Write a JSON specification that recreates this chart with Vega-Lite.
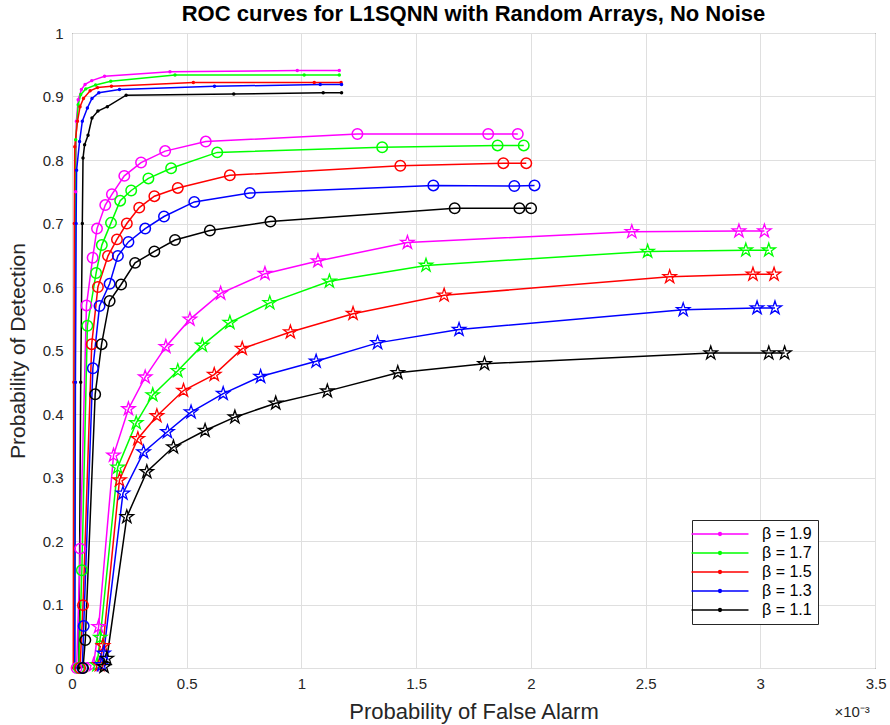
{
"$schema": "https://vega.github.io/schema/vega-lite/v6.json",
"width": 803, "height": 635,
"autosize": {"type": "none"},
"padding": {"left": 72, "top": 33, "right": 15, "bottom": 57},
"background": "white",
"config": {
 "font": "Liberation Sans",
 "view": {"stroke": "#262626", "strokeWidth": 1},
 "axis": {"grid": true, "gridColor": "#dfdfdf", "gridWidth": 1, "domain": false, "ticks": false, "labelFontSize": 15, "labelColor": "#262626", "titleColor": "#262626", "titleFontSize": 21, "titleFontWeight": "normal"}
},
"title": {"text": "ROC curves for L1SQNN with Random Arrays, No Noise", "fontSize": 22, "fontWeight": "bold", "color": "#000000", "offset": 0},
"data": {"values": [
{"beta":"1.9","marker":"dot","i":0,"pfa":0.010,"pd":0},
{"beta":"1.9","marker":"dot","i":1,"pfa":0.014,"pd":0.45},
{"beta":"1.9","marker":"dot","i":2,"pfa":0.016,"pd":0.75},
{"beta":"1.9","marker":"dot","i":3,"pfa":0.019,"pd":0.861},
{"beta":"1.9","marker":"dot","i":4,"pfa":0.027,"pd":0.895},
{"beta":"1.9","marker":"dot","i":5,"pfa":0.041,"pd":0.911},
{"beta":"1.9","marker":"dot","i":6,"pfa":0.057,"pd":0.919},
{"beta":"1.9","marker":"dot","i":7,"pfa":0.086,"pd":0.925},
{"beta":"1.9","marker":"dot","i":8,"pfa":0.142,"pd":0.932},
{"beta":"1.9","marker":"dot","i":9,"pfa":0.427,"pd":0.939},
{"beta":"1.9","marker":"dot","i":10,"pfa":0.982,"pd":0.941},
{"beta":"1.9","marker":"dot","i":11,"pfa":1.165,"pd":0.941},
{"beta":"1.7","marker":"dot","i":0,"pfa":0.012,"pd":0},
{"beta":"1.7","marker":"dot","i":1,"pfa":0.013,"pd":0.45},
{"beta":"1.7","marker":"dot","i":2,"pfa":0.014,"pd":0.7},
{"beta":"1.7","marker":"dot","i":3,"pfa":0.016,"pd":0.832},
{"beta":"1.7","marker":"dot","i":4,"pfa":0.027,"pd":0.887},
{"beta":"1.7","marker":"dot","i":5,"pfa":0.038,"pd":0.903},
{"beta":"1.7","marker":"dot","i":6,"pfa":0.060,"pd":0.912},
{"beta":"1.7","marker":"dot","i":7,"pfa":0.103,"pd":0.918},
{"beta":"1.7","marker":"dot","i":8,"pfa":0.169,"pd":0.924},
{"beta":"1.7","marker":"dot","i":9,"pfa":0.449,"pd":0.934},
{"beta":"1.7","marker":"dot","i":10,"pfa":1.012,"pd":0.934},
{"beta":"1.7","marker":"dot","i":11,"pfa":1.165,"pd":0.934},
{"beta":"1.5","marker":"dot","i":0,"pfa":0.006,"pd":0},
{"beta":"1.5","marker":"dot","i":1,"pfa":0.008,"pd":0.45},
{"beta":"1.5","marker":"dot","i":2,"pfa":0.010,"pd":0.7},
{"beta":"1.5","marker":"dot","i":3,"pfa":0.012,"pd":0.821},
{"beta":"1.5","marker":"dot","i":4,"pfa":0.024,"pd":0.861},
{"beta":"1.5","marker":"dot","i":5,"pfa":0.035,"pd":0.884},
{"beta":"1.5","marker":"dot","i":6,"pfa":0.050,"pd":0.897},
{"beta":"1.5","marker":"dot","i":7,"pfa":0.079,"pd":0.909},
{"beta":"1.5","marker":"dot","i":8,"pfa":0.111,"pd":0.914},
{"beta":"1.5","marker":"dot","i":9,"pfa":0.172,"pd":0.916},
{"beta":"1.5","marker":"dot","i":10,"pfa":0.529,"pd":0.922},
{"beta":"1.5","marker":"dot","i":11,"pfa":1.056,"pd":0.922},
{"beta":"1.5","marker":"dot","i":12,"pfa":1.173,"pd":0.922},
{"beta":"1.3","marker":"dot","i":0,"pfa":0.012,"pd":0},
{"beta":"1.3","marker":"dot","i":1,"pfa":0.015,"pd":0.45},
{"beta":"1.3","marker":"dot","i":2,"pfa":0.018,"pd":0.7},
{"beta":"1.3","marker":"dot","i":3,"pfa":0.020,"pd":0.784},
{"beta":"1.3","marker":"dot","i":4,"pfa":0.033,"pd":0.829},
{"beta":"1.3","marker":"dot","i":5,"pfa":0.045,"pd":0.861},
{"beta":"1.3","marker":"dot","i":6,"pfa":0.067,"pd":0.882},
{"beta":"1.3","marker":"dot","i":7,"pfa":0.087,"pd":0.897},
{"beta":"1.3","marker":"dot","i":8,"pfa":0.117,"pd":0.906},
{"beta":"1.3","marker":"dot","i":9,"pfa":0.207,"pd":0.911},
{"beta":"1.3","marker":"dot","i":10,"pfa":0.621,"pd":0.916},
{"beta":"1.3","marker":"dot","i":11,"pfa":1.082,"pd":0.919},
{"beta":"1.3","marker":"dot","i":12,"pfa":1.175,"pd":0.919},
{"beta":"1.1","marker":"dot","i":0,"pfa":0.030,"pd":0},
{"beta":"1.1","marker":"dot","i":1,"pfa":0.038,"pd":0.45},
{"beta":"1.1","marker":"dot","i":2,"pfa":0.045,"pd":0.7},
{"beta":"1.1","marker":"dot","i":3,"pfa":0.048,"pd":0.803},
{"beta":"1.1","marker":"dot","i":4,"pfa":0.055,"pd":0.824},
{"beta":"1.1","marker":"dot","i":5,"pfa":0.070,"pd":0.839},
{"beta":"1.1","marker":"dot","i":6,"pfa":0.087,"pd":0.866},
{"beta":"1.1","marker":"dot","i":7,"pfa":0.113,"pd":0.877},
{"beta":"1.1","marker":"dot","i":8,"pfa":0.154,"pd":0.884},
{"beta":"1.1","marker":"dot","i":9,"pfa":0.236,"pd":0.902},
{"beta":"1.1","marker":"dot","i":10,"pfa":0.705,"pd":0.904},
{"beta":"1.1","marker":"dot","i":11,"pfa":1.095,"pd":0.906},
{"beta":"1.1","marker":"dot","i":12,"pfa":1.175,"pd":0.906},
{"beta":"1.9","marker":"circle","i":0,"pfa":0.020,"pd":0},
{"beta":"1.9","marker":"circle","i":1,"pfa":0.036,"pd":0.188},
{"beta":"1.9","marker":"circle","i":2,"pfa":0.063,"pd":0.571},
{"beta":"1.9","marker":"circle","i":3,"pfa":0.090,"pd":0.646},
{"beta":"1.9","marker":"circle","i":4,"pfa":0.109,"pd":0.692},
{"beta":"1.9","marker":"circle","i":5,"pfa":0.145,"pd":0.729},
{"beta":"1.9","marker":"circle","i":6,"pfa":0.174,"pd":0.746},
{"beta":"1.9","marker":"circle","i":7,"pfa":0.228,"pd":0.775},
{"beta":"1.9","marker":"circle","i":8,"pfa":0.301,"pd":0.796},
{"beta":"1.9","marker":"circle","i":9,"pfa":0.406,"pd":0.814},
{"beta":"1.9","marker":"circle","i":10,"pfa":0.583,"pd":0.829},
{"beta":"1.9","marker":"circle","i":11,"pfa":1.244,"pd":0.841},
{"beta":"1.9","marker":"circle","i":12,"pfa":1.814,"pd":0.841},
{"beta":"1.9","marker":"circle","i":13,"pfa":1.943,"pd":0.841},
{"beta":"1.7","marker":"circle","i":0,"pfa":0.030,"pd":0},
{"beta":"1.7","marker":"circle","i":1,"pfa":0.043,"pd":0.154},
{"beta":"1.7","marker":"circle","i":2,"pfa":0.067,"pd":0.539},
{"beta":"1.7","marker":"circle","i":3,"pfa":0.105,"pd":0.622},
{"beta":"1.7","marker":"circle","i":4,"pfa":0.130,"pd":0.666},
{"beta":"1.7","marker":"circle","i":5,"pfa":0.170,"pd":0.701},
{"beta":"1.7","marker":"circle","i":6,"pfa":0.210,"pd":0.736},
{"beta":"1.7","marker":"circle","i":7,"pfa":0.258,"pd":0.752},
{"beta":"1.7","marker":"circle","i":8,"pfa":0.333,"pd":0.771},
{"beta":"1.7","marker":"circle","i":9,"pfa":0.432,"pd":0.787},
{"beta":"1.7","marker":"circle","i":10,"pfa":0.633,"pd":0.812},
{"beta":"1.7","marker":"circle","i":11,"pfa":1.352,"pd":0.820},
{"beta":"1.7","marker":"circle","i":12,"pfa":1.855,"pd":0.823},
{"beta":"1.7","marker":"circle","i":13,"pfa":1.969,"pd":0.823},
{"beta":"1.5","marker":"circle","i":0,"pfa":0.035,"pd":0},
{"beta":"1.5","marker":"circle","i":1,"pfa":0.048,"pd":0.099},
{"beta":"1.5","marker":"circle","i":2,"pfa":0.086,"pd":0.510},
{"beta":"1.5","marker":"circle","i":3,"pfa":0.113,"pd":0.600},
{"beta":"1.5","marker":"circle","i":4,"pfa":0.157,"pd":0.649},
{"beta":"1.5","marker":"circle","i":5,"pfa":0.196,"pd":0.675},
{"beta":"1.5","marker":"circle","i":6,"pfa":0.239,"pd":0.700},
{"beta":"1.5","marker":"circle","i":7,"pfa":0.293,"pd":0.725},
{"beta":"1.5","marker":"circle","i":8,"pfa":0.359,"pd":0.743},
{"beta":"1.5","marker":"circle","i":9,"pfa":0.461,"pd":0.756},
{"beta":"1.5","marker":"circle","i":10,"pfa":0.688,"pd":0.776},
{"beta":"1.5","marker":"circle","i":11,"pfa":1.431,"pd":0.791},
{"beta":"1.5","marker":"circle","i":12,"pfa":1.880,"pd":0.795},
{"beta":"1.5","marker":"circle","i":13,"pfa":1.980,"pd":0.795},
{"beta":"1.3","marker":"circle","i":0,"pfa":0.045,"pd":0},
{"beta":"1.3","marker":"circle","i":1,"pfa":0.051,"pd":0.066},
{"beta":"1.3","marker":"circle","i":2,"pfa":0.091,"pd":0.472},
{"beta":"1.3","marker":"circle","i":3,"pfa":0.120,"pd":0.570},
{"beta":"1.3","marker":"circle","i":4,"pfa":0.164,"pd":0.605},
{"beta":"1.3","marker":"circle","i":5,"pfa":0.200,"pd":0.649},
{"beta":"1.3","marker":"circle","i":6,"pfa":0.246,"pd":0.671},
{"beta":"1.3","marker":"circle","i":7,"pfa":0.319,"pd":0.692},
{"beta":"1.3","marker":"circle","i":8,"pfa":0.401,"pd":0.711},
{"beta":"1.3","marker":"circle","i":9,"pfa":0.533,"pd":0.734},
{"beta":"1.3","marker":"circle","i":10,"pfa":0.775,"pd":0.748},
{"beta":"1.3","marker":"circle","i":11,"pfa":1.575,"pd":0.760},
{"beta":"1.3","marker":"circle","i":12,"pfa":1.928,"pd":0.759},
{"beta":"1.3","marker":"circle","i":13,"pfa":2.016,"pd":0.760},
{"beta":"1.1","marker":"circle","i":0,"pfa":0.048,"pd":0},
{"beta":"1.1","marker":"circle","i":1,"pfa":0.058,"pd":0.044},
{"beta":"1.1","marker":"circle","i":2,"pfa":0.101,"pd":0.431},
{"beta":"1.1","marker":"circle","i":3,"pfa":0.129,"pd":0.510},
{"beta":"1.1","marker":"circle","i":4,"pfa":0.164,"pd":0.578},
{"beta":"1.1","marker":"circle","i":5,"pfa":0.214,"pd":0.604},
{"beta":"1.1","marker":"circle","i":6,"pfa":0.275,"pd":0.638},
{"beta":"1.1","marker":"circle","i":7,"pfa":0.359,"pd":0.656},
{"beta":"1.1","marker":"circle","i":8,"pfa":0.449,"pd":0.674},
{"beta":"1.1","marker":"circle","i":9,"pfa":0.601,"pd":0.689},
{"beta":"1.1","marker":"circle","i":10,"pfa":0.865,"pd":0.703},
{"beta":"1.1","marker":"circle","i":11,"pfa":1.668,"pd":0.724},
{"beta":"1.1","marker":"circle","i":12,"pfa":1.950,"pd":0.724},
{"beta":"1.1","marker":"circle","i":13,"pfa":2.001,"pd":0.724},
{"beta":"1.9","marker":"star","i":0,"pfa":0.094,"pd":0.005},
{"beta":"1.9","marker":"star","i":1,"pfa":0.116,"pd":0.065},
{"beta":"1.9","marker":"star","i":2,"pfa":0.181,"pd":0.335},
{"beta":"1.9","marker":"star","i":3,"pfa":0.246,"pd":0.408},
{"beta":"1.9","marker":"star","i":4,"pfa":0.319,"pd":0.458},
{"beta":"1.9","marker":"star","i":5,"pfa":0.409,"pd":0.506},
{"beta":"1.9","marker":"star","i":6,"pfa":0.514,"pd":0.549},
{"beta":"1.9","marker":"star","i":7,"pfa":0.648,"pd":0.590},
{"beta":"1.9","marker":"star","i":8,"pfa":0.841,"pd":0.621},
{"beta":"1.9","marker":"star","i":9,"pfa":1.072,"pd":0.641},
{"beta":"1.9","marker":"star","i":10,"pfa":1.462,"pd":0.670},
{"beta":"1.9","marker":"star","i":11,"pfa":2.440,"pd":0.687},
{"beta":"1.9","marker":"star","i":12,"pfa":2.907,"pd":0.688},
{"beta":"1.9","marker":"star","i":13,"pfa":3.018,"pd":0.688},
{"beta":"1.7","marker":"star","i":0,"pfa":0.109,"pd":0.005},
{"beta":"1.7","marker":"star","i":1,"pfa":0.123,"pd":0.048},
{"beta":"1.7","marker":"star","i":2,"pfa":0.199,"pd":0.316},
{"beta":"1.7","marker":"star","i":3,"pfa":0.280,"pd":0.386},
{"beta":"1.7","marker":"star","i":4,"pfa":0.352,"pd":0.430},
{"beta":"1.7","marker":"star","i":5,"pfa":0.461,"pd":0.468},
{"beta":"1.7","marker":"star","i":6,"pfa":0.568,"pd":0.508},
{"beta":"1.7","marker":"star","i":7,"pfa":0.688,"pd":0.544},
{"beta":"1.7","marker":"star","i":8,"pfa":0.862,"pd":0.575},
{"beta":"1.7","marker":"star","i":9,"pfa":1.122,"pd":0.609},
{"beta":"1.7","marker":"star","i":10,"pfa":1.543,"pd":0.634},
{"beta":"1.7","marker":"star","i":11,"pfa":2.509,"pd":0.656},
{"beta":"1.7","marker":"star","i":12,"pfa":2.937,"pd":0.658},
{"beta":"1.7","marker":"star","i":13,"pfa":3.037,"pd":0.658},
{"beta":"1.5","marker":"star","i":0,"pfa":0.120,"pd":0.005},
{"beta":"1.5","marker":"star","i":1,"pfa":0.135,"pd":0.035},
{"beta":"1.5","marker":"star","i":2,"pfa":0.207,"pd":0.296},
{"beta":"1.5","marker":"star","i":3,"pfa":0.287,"pd":0.361},
{"beta":"1.5","marker":"star","i":4,"pfa":0.370,"pd":0.397},
{"beta":"1.5","marker":"star","i":5,"pfa":0.486,"pd":0.437},
{"beta":"1.5","marker":"star","i":6,"pfa":0.620,"pd":0.462},
{"beta":"1.5","marker":"star","i":7,"pfa":0.742,"pd":0.503},
{"beta":"1.5","marker":"star","i":8,"pfa":0.952,"pd":0.529},
{"beta":"1.5","marker":"star","i":9,"pfa":1.225,"pd":0.558},
{"beta":"1.5","marker":"star","i":10,"pfa":1.622,"pd":0.587},
{"beta":"1.5","marker":"star","i":11,"pfa":2.605,"pd":0.616},
{"beta":"1.5","marker":"star","i":12,"pfa":2.968,"pd":0.620},
{"beta":"1.5","marker":"star","i":13,"pfa":3.060,"pd":0.620},
{"beta":"1.3","marker":"star","i":0,"pfa":0.130,"pd":0.005},
{"beta":"1.3","marker":"star","i":1,"pfa":0.138,"pd":0.023},
{"beta":"1.3","marker":"star","i":2,"pfa":0.222,"pd":0.275},
{"beta":"1.3","marker":"star","i":3,"pfa":0.312,"pd":0.340},
{"beta":"1.3","marker":"star","i":4,"pfa":0.416,"pd":0.372},
{"beta":"1.3","marker":"star","i":5,"pfa":0.519,"pd":0.403},
{"beta":"1.3","marker":"star","i":6,"pfa":0.659,"pd":0.432},
{"beta":"1.3","marker":"star","i":7,"pfa":0.822,"pd":0.459},
{"beta":"1.3","marker":"star","i":8,"pfa":1.064,"pd":0.483},
{"beta":"1.3","marker":"star","i":9,"pfa":1.332,"pd":0.512},
{"beta":"1.3","marker":"star","i":10,"pfa":1.687,"pd":0.533},
{"beta":"1.3","marker":"star","i":11,"pfa":2.664,"pd":0.564},
{"beta":"1.3","marker":"star","i":12,"pfa":2.986,"pd":0.567},
{"beta":"1.3","marker":"star","i":13,"pfa":3.064,"pd":0.567},
{"beta":"1.1","marker":"star","i":0,"pfa":0.140,"pd":0.002},
{"beta":"1.1","marker":"star","i":1,"pfa":0.152,"pd":0.015},
{"beta":"1.1","marker":"star","i":2,"pfa":0.239,"pd":0.238},
{"beta":"1.1","marker":"star","i":3,"pfa":0.326,"pd":0.309},
{"beta":"1.1","marker":"star","i":4,"pfa":0.442,"pd":0.348},
{"beta":"1.1","marker":"star","i":5,"pfa":0.580,"pd":0.374},
{"beta":"1.1","marker":"star","i":6,"pfa":0.710,"pd":0.395},
{"beta":"1.1","marker":"star","i":7,"pfa":0.888,"pd":0.417},
{"beta":"1.1","marker":"star","i":8,"pfa":1.113,"pd":0.436},
{"beta":"1.1","marker":"star","i":9,"pfa":1.420,"pd":0.465},
{"beta":"1.1","marker":"star","i":10,"pfa":1.798,"pd":0.479},
{"beta":"1.1","marker":"star","i":11,"pfa":2.784,"pd":0.496},
{"beta":"1.1","marker":"star","i":12,"pfa":3.037,"pd":0.496},
{"beta":"1.1","marker":"star","i":13,"pfa":3.106,"pd":0.496}
]},
"encoding": {
 "x": {"field": "pfa", "type": "quantitative", "scale": {"domain": [0, 3.5], "nice": false, "zero": false},
  "axis": {"values": [0, 0.5, 1, 1.5, 2, 2.5, 3, 3.5], "format": "~g", "labelFlush": false, "labelOverlap": false, "labelPadding": 8,
   "labelExpr": "datum.value == 3.5 ? ['3.5', '×10⁻³\u00a0\u00a0\u00a0\u00a0\u200b'] : datum.label",
   "labelLineHeight": 28,
   "labelAlign": {"condition": {"test": "datum.value == 3.5", "value": "right"}, "value": "center"},
   "labelOffset": {"condition": {"test": "datum.value == 3.5", "value": 11}, "value": 0},
   "title": "Probability of False Alarm", "titleFontSize": 22, "titleY": 50, "titleBaseline": "alphabetic"}},
 "y": {"field": "pd", "type": "quantitative", "scale": {"domain": [0, 1], "nice": false},
  "axis": {"values": [0, 0.1, 0.2, 0.3, 0.4, 0.5, 0.6, 0.7, 0.8, 0.9, 1], "format": "~g", "labelPadding": 9,
   "title": "Probability of Detection", "titleX": -54, "titleBaseline": "middle"}}
},
"layer": [
 {"mark": {"type": "line", "strokeWidth": 1.5},
  "encoding": {
   "color": {"field": "beta", "type": "nominal",
    "scale": {"domain": ["1.9", "1.7", "1.5", "1.3", "1.1"], "range": ["#ff00ff", "#00ff00", "#ff0000", "#0000ff", "#000000"]},
    "legend": {"orient": "none", "legendX": 620, "legendY": 487, "title": null,
     "labelExpr": "'β = ' + datum.label",
     "symbolType": "M-4.07,0H4.07M-0.2,0A0.2,0.2,0,1,1,0.2,0A0.2,0.2,0,1,1,-0.2,0",
     "symbolSize": 196, "symbolStrokeWidth": 1.5, "symbolOffset": 14, "labelOffset": 34,
     "labelFontSize": 16, "labelColor": "#000000", "padding": 6, "rowPadding": 3,
     "strokeColor": "#262626", "fillColor": "white"}},
   "detail": {"field": "marker"},
   "order": {"field": "i", "type": "quantitative"}}},
 {"transform": [{"filter": "datum.marker == 'dot'"}],
  "mark": {"type": "point", "shape": "circle", "filled": true, "size": 12, "opacity": 1},
  "encoding": {"color": {"field": "beta", "type": "nominal", "legend": null}}},
 {"transform": [{"filter": "datum.marker == 'circle'"}],
  "mark": {"type": "point", "shape": "circle", "filled": false, "size": 110, "strokeWidth": 1.5, "opacity": 1},
  "encoding": {"color": {"field": "beta", "type": "nominal", "legend": null}}},
 {"transform": [{"filter": "datum.marker == 'star'"}],
  "mark": {"type": "point", "shape": "M0,-1L0.2245,-0.309L0.951,-0.309L0.363,0.118L0.588,0.809L0,0.382L-0.588,0.809L-0.363,0.118L-0.951,-0.309L-0.2245,-0.309Z", "filled": false, "size": 196, "strokeWidth": 1.3, "opacity": 1},
  "encoding": {"color": {"field": "beta", "type": "nominal", "legend": null}}}
]
}
